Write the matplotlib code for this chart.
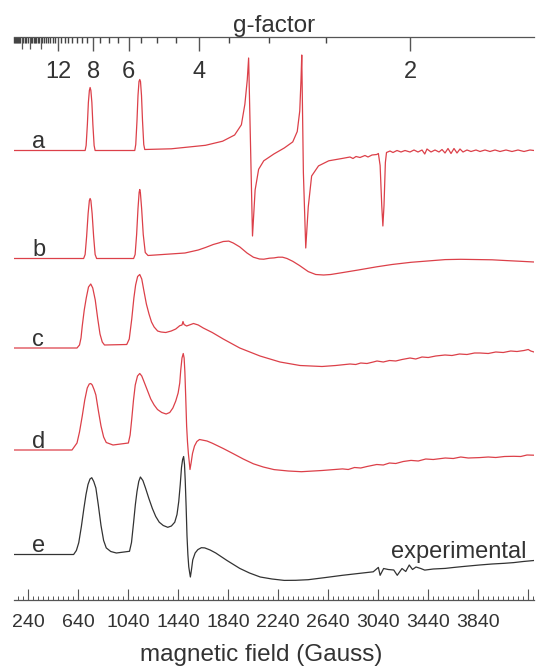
import numpy as np
import matplotlib
matplotlib.use('Agg')
import matplotlib.pyplot as plt
from matplotlib.ticker import FixedLocator

plt.rcParams['font.family'] = ['Liberation Sans', 'DejaVu Sans']

# spectra: magnetic field (Gauss) and signal (arb. units)
field_a = [126, 695, 703, 713, 721, 729, 735, 741, 749, 757, 767, 775,
           1092, 1100, 1110, 1118, 1126, 1132, 1138, 1146, 1154, 1164, 1172,
           1384, 1658, 1795, 1891, 1945, 1973, 1992, 2003, 2020, 2034, 2055, 2083,
           2124, 2206, 2288, 2356, 2392, 2412, 2422, 2428, 2441, 2460, 2480, 2507,
           2562, 2644, 2754,
           2814, 2838, 2862, 2894, 2934, 2958, 2990, 3028, 3041, 3055, 3068, 3077,
           3086, 3097, 3106, 3134, 3158, 3190, 3222, 3254, 3294, 3326, 3358, 3390,
           3412, 3430, 3462, 3494, 3526, 3550, 3574, 3598, 3622, 3646, 3670, 3694,
           3718, 3750, 3782, 3822, 3854, 3894, 3934, 3974, 4014, 4062, 4110, 4158,
           4206, 4254, 4286]
sig_a = [0, 0, 5, 26, 48, 60, 63, 60, 48, 26, 5, 0,
         0, 6, 30, 55, 69, 71, 69, 55, 30, 6, 1,
         1.7, 5.2, 9.3, 15.5, 25.7, 46.3, 70.5, 92.5, -5, -85.5, -39.5, -18.8,
         -10.3, -3.4, 2.5, 8.6, 19, 39.5, 70.5, 95.5, -22, -97.5, -56.5, -25.5,
         -15.4, -10.3, -7.9,
         -6.5, -8, -6, -7, -5, -6.5, -4.5, -4, -3, -15, -55, -75.5,
         -55, -12, -2, -0.5, -2, 0, -1.5, 0, -1.5, 0.5, -1.5, 0.5,
         -3.5, 1.5, -1.5, 0.5, -1.5, 1, -2.5, 2, -3, 2, -2.5, 1.5,
         -1.5, 0.5, -1, 0.5, -1, 0.5, -1, 0.5, -1, 0.5, -1, 0.5,
         -1, 0.5, 0]

field_b = [126, 683, 695, 707, 719, 729, 735, 741, 751, 763, 775, 787,
           1083, 1095, 1107, 1118, 1127, 1132, 1137, 1147, 1160, 1176, 1198,
           1494, 1600, 1658, 1720, 1768, 1800, 1844, 1880, 1932, 1990, 2041, 2090,
           2124, 2170, 2206, 2240, 2274, 2310, 2356, 2410, 2480, 2540, 2603, 2660,
           2754, 2880, 3028, 3150, 3302, 3576, 3700, 3850, 3950, 4068, 4180, 4286]
sig_b = [0, 0, 4, 22, 45, 58, 60, 58, 45, 22, 4, 0,
         0, 4, 24, 50, 66, 69, 66, 50, 24, 6, 3,
         5.5, 8.5, 11, 14, 15.7, 17, 17.4, 15.5, 11.6, 5.5, 1.3, -0.5,
         -0.7, 0.3, 0.6, 1.3, 1.3, 0, -2.8, -7, -13.1, -16, -16.5, -16,
         -14.1, -11.5, -8.3, -6, -3.8, -1.1, -0.8, -1.1, -1.3, -2.1, -2.8, -3.5]

field_c = [126, 630, 650, 662, 672, 688, 704, 722, 740, 756, 776, 795, 814, 832,
           850, 1028, 1048, 1068, 1085, 1099, 1115, 1132, 1148, 1164, 1185, 1206,
           1226, 1247, 1275, 1302, 1340, 1384, 1420, 1452, 1470, 1478, 1486, 1507,
           1540, 1562, 1600, 1640, 1712, 1800, 1932, 2094, 2254, 2414, 2590, 2700,
           2814, 2860, 2900, 2950, 3000, 3030, 3080, 3130, 3180, 3230, 3294, 3340,
           3390, 3440, 3500, 3574, 3630, 3690, 3750, 3810, 3854, 3920, 3980, 4040,
           4100, 4150, 4206, 4240, 4260, 4286]
sig_c = [0, 0, 3, 10, 22, 38, 50, 61, 64, 60, 48, 30, 14, 6,
         3, 3.5, 9, 29, 50, 63, 71.5, 73.5, 69, 58, 44, 34,
         26, 21, 17, 16, 15.5, 17, 19, 22.3, 23, 26.5, 23.5, 22,
         23.5, 24.5, 23, 20, 15.5, 9, 0, -8, -14, -17.5, -18.5, -17.5,
         -16, -16.5, -15, -15.5, -14, -13, -14, -12.5, -13, -11.5, -10, -11,
         -9, -9.5, -8, -7, -7.5, -6, -6.5, -5, -5, -5.5, -4, -4.5,
         -3, -3.5, -2.5, -1.5, -3, -4]

field_d = [126, 590, 630, 650, 672, 692, 712, 728, 740, 752, 768, 781, 800, 822,
           843, 864, 918, 1041, 1055, 1068, 1082, 1096, 1114, 1132, 1148, 1164,
           1192, 1220, 1247, 1274, 1308, 1343, 1372, 1397, 1420, 1439, 1452, 1460,
           1470, 1480, 1487, 1493, 1500, 1507, 1514, 1521, 1528, 1534, 1544, 1554,
           1570, 1589, 1610, 1630, 1670, 1712, 1800, 1877, 1960, 2041, 2120, 2206,
           2320, 2425, 2590, 2754, 2800, 2850, 2900, 2950, 3028, 3080, 3130, 3180,
           3240, 3302, 3360, 3420, 3480, 3576, 3640, 3700, 3760, 3850, 3920, 3980,
           4050, 4124, 4180, 4230, 4286]
sig_d = [0, 0, 7, 18, 34, 50, 62, 66, 66.5, 65, 60, 55, 40, 24,
         13, 7.5, 5, 7, 15, 31, 50, 65, 74, 76.5, 74, 69,
         60, 51, 45, 40.5, 37.5, 36, 37.5, 42, 49, 57, 67, 80,
         92, 96.5, 92, 78, 52, 24, 8, -3.5, -12, -19.5, -12, -3.5,
         4, 8.5, 10.5, 10, 9, 6.8, 1.5, -3.5, -9, -13.8, -17, -19.6,
         -21, -21.7, -20.5, -18.9, -19.5, -17.5, -18, -16.5, -14.5, -15, -13, -13.5,
         -11.5, -10.4, -11, -9, -9.5, -8, -8.5, -7, -8, -7.6, -7, -7.5,
         -6.5, -6.3, -6.5, -5, -5.2]

field_e = [126, 603, 625, 644, 665, 685, 702, 718, 734, 748, 764, 781, 800, 822,
           843, 864, 900, 945, 1050, 1066, 1083, 1097, 1110, 1124, 1137, 1157,
           1178, 1205, 1233, 1260, 1288, 1320, 1356, 1385, 1412, 1430, 1444, 1456,
           1466, 1475, 1483, 1490, 1496, 1503, 1510, 1517, 1524, 1531, 1537, 1546,
           1556, 1575, 1597, 1625, 1652, 1695, 1740, 1830, 1932, 2010, 2096, 2190,
           2288, 2380, 2480, 2620, 2754, 2880, 3000, 3041, 3055, 3083, 3120, 3164,
           3192, 3230, 3260, 3288, 3314, 3342, 3380, 3412, 3480, 3576, 3640, 3720,
           3850, 3950, 4050, 4124, 4200, 4286]
sig_e = [0, 0, 4, 11.8, 28, 46, 60, 70, 75.5, 76.8, 73, 66.5, 50, 29,
         14, 6.6, 3, 1.5, 3.2, 12, 32.3, 50, 63, 73, 77.5, 74,
         66.5, 56, 46, 38, 32.3, 29, 27.2, 28.5, 32.3, 40, 53, 70,
         87, 95, 98, 90, 73.5, 48, 18.6, 0, -12.2, -18, -22.5, -15,
         -5.4, 1.5, 4.9, 6.8, 6.6, 4.5, 1.5, -6, -13.9, -18.5, -22.5, -24.5,
         -25.9, -25.8, -25.2, -23, -20.8, -19, -17.3, -12.9, -20.8, -14, -15, -15.5,
         -20.8, -14, -17, -10.5, -15, -12.5, -14, -15.6, -14.5, -13.9, -13, -12,
         -10.5, -9.5, -8.8, -8.1, -7, -6]

trace_names = ['a', 'b', 'c', 'd', 'e']
fields = [field_a, field_b, field_c, field_d, field_e]
signals = [sig_a, sig_b, sig_c, sig_d, sig_e]

# tick labels
field_tick_labels = ['240', '640', '1040', '1440', '1840', '2240', '2640',
                     '3040', '3440', '3840', '']
g_major = [12, 8, 6, 4, 2]
g_medium = [25, 20, 16]

# layout / style
offsets = [449.5, 341.5, 252, 150, 45.5]
red = '#dc4049'
dark = '#333333'
colors = [red, red, red, red, dark]


def field_to_g(b):
    b = np.asarray(b, dtype=float)
    return 6752.0 / np.maximum(b + 82.4, 1e-6)


def g_to_field(g):
    g = np.asarray(g, dtype=float)
    return 6752.0 / np.maximum(g, 1e-6) - 82.4


fig = plt.figure(figsize=(5.36, 6.69), dpi=100)
ax = fig.add_axes([14 / 536, 69 / 669, 520 / 536, 563 / 669])

for name, fld, sig, off, col in zip(trace_names, fields, signals, offsets, colors):
    ax.plot(fld, np.array(sig) + off, color=col, lw=0.9)
    ax.text(272, off + 2.5, name, fontsize=17, color=dark, ha='left', va='baseline')

ax.text(4222, 42, 'experimental', fontsize=17, color=dark, ha='right', va='baseline')

ax.set_xlim(126, 4286)
ax.set_ylim(0, 563)
ax.set_yticks([])
for s in ['left', 'right', 'top']:
    ax.spines[s].set_visible(False)
ax.spines['bottom'].set_color('#555555')
ax.spines['bottom'].set_linewidth(0.9)

ax.set_xticks(np.arange(240, 4241, 400), field_tick_labels)
ax.xaxis.set_minor_locator(FixedLocator(np.arange(160, 4286, 40)))
ax.tick_params(axis='x', which='major', direction='in', length=8, width=0.8,
               pad=10, labelsize=14, color='#555555', labelcolor=dark)
ax.tick_params(axis='x', which='minor', direction='in', length=3, width=0.7,
               color='#555555')

# g-factor scale on top
secax = ax.secondary_xaxis('top', functions=(field_to_g, g_to_field))
secax.set_xticks(g_major, [str(g) for g in g_major])
g_minor = [g for g in np.concatenate([np.arange(2.5, 20, 0.5), np.arange(21, 41, 1)])
           if g not in g_major and g not in g_medium]
secax.xaxis.set_minor_locator(FixedLocator(g_minor))
secax.tick_params(axis='x', which='major', direction='in', length=10, width=1.0,
                  pad=-33, labelsize=17, color='#555555', labelcolor=dark)
secax.tick_params(axis='x', which='minor', direction='in', length=4.5, width=1.0,
                  color='#444444')
secax.spines['top'].set_color('#555555')
secax.spines['top'].set_linewidth(0.9)

secax2 = ax.secondary_xaxis('top', functions=(field_to_g, g_to_field))
secax2.set_xticks(g_medium, ['' for g in g_medium])
secax2.tick_params(axis='x', which='major', direction='in', length=8.5, width=0.9,
                   color='#555555')
secax2.spines['top'].set_visible(False)

fig.text(274 / 536, 1 - 32 / 669, 'g-factor', fontsize=17.5, color=dark,
         ha='center', va='baseline')
fig.text(261 / 536, 1 - 661 / 669, 'magnetic field (Gauss)', fontsize=17.5,
         color=dark, ha='center', va='baseline')

fig.savefig('out.png', dpi=100)
